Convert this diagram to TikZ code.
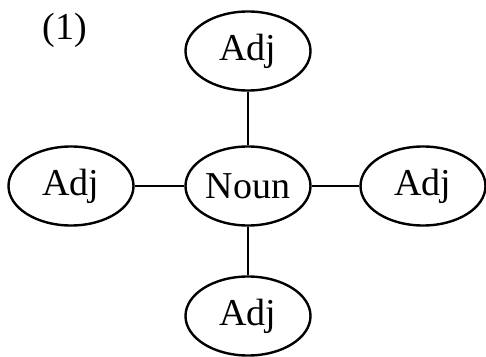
\documentclass[tikz,border=0pt]{standalone}
\usepackage{fontspec}
\setmainfont{Liberation Serif}
\usetikzlibrary{shapes.geometric}
\begin{document}
\begin{tikzpicture}[x=1pt,y=1pt,
  wordbox/.style={ellipse,draw,line width=2.4pt,minimum width=125pt,minimum height=79pt,inner sep=0pt,font=\fontsize{38}{42}\selectfont},
  link/.style={line width=2.4pt}]
\useasboundingbox (0,0) rectangle (486,356);
\node[font=\fontsize{38}{42}\selectfont] (lab) at (65,326) {(1)};
\node[wordbox] (top) at (248,305) {Adj};
\node[wordbox] (noun) at (248,170) {Noun};
\node[wordbox] (left) at (71,170) {Adj};
\node[wordbox] (right) at (423,170) {Adj};
\node[wordbox] (bot) at (248,40) {Adj};
\draw[link] (top) -- (noun);
\draw[link] (noun) -- (bot);
\draw[link] (left) -- (noun);
\draw[link] (noun) -- (right);
\end{tikzpicture}
\end{document}
